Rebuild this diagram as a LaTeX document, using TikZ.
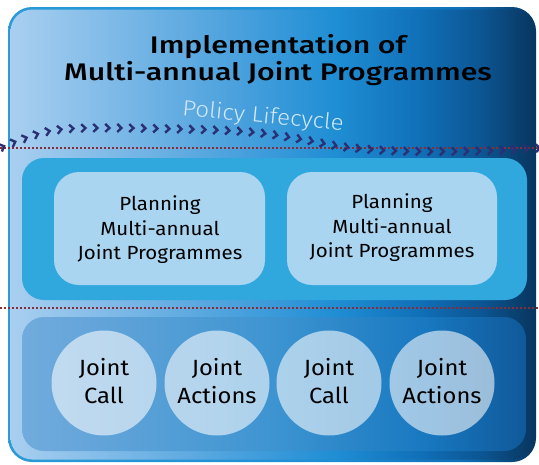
\documentclass[tikz,border=0pt]{standalone}
\usepackage{fontspec}
\setmainfont[FakeStretch=1.08]{Fira Sans}
\newfontfamily\titlefont[FakeStretch=1.26]{Fira Sans Medium}
\newfontfamily\lightfont[FakeStretch=1.1]{Fira Sans Light}
\usepackage{tikz}
\usetikzlibrary{decorations.markings}

\definecolor{paleblue}{HTML}{A9CFF0}
\definecolor{skyblue}{HTML}{5AA8E0}
\definecolor{midblue}{HTML}{1F8ED4}
\definecolor{deepblue}{HTML}{1070B8}
\definecolor{darkblue}{HTML}{0C5592}
\definecolor{navyblue}{HTML}{083660}
\definecolor{rimblue}{HTML}{2A9AD8}
\definecolor{panelblue}{HTML}{30A8DE}
\definecolor{planfill}{HTML}{A9D5F1}
\definecolor{lowleft}{HTML}{72ABDD}
\definecolor{lowmid}{HTML}{3D94D1}
\definecolor{lowdeep}{HTML}{1878C0}
\definecolor{lowright}{HTML}{10599A}
\definecolor{chevcol}{HTML}{2B2F73}
\definecolor{dotcol}{HTML}{8B2B35}
\definecolor{cyclecol}{HTML}{D2E8F8}

% shadings run from 25bp (left edge) to 75bp (right edge)
\pgfdeclarehorizontalshading{outershade}{100bp}{color(0bp)=(paleblue); color(25bp)=(paleblue);
  color(43bp)=(skyblue); color(56bp)=(midblue); color(64bp)=(deepblue);
  color(70bp)=(darkblue); color(75bp)=(navyblue); color(100bp)=(navyblue)}
\pgfdeclarehorizontalshading{rimshade}{100bp}{color(0bp)=(rimblue); color(25bp)=(rimblue);
  color(56bp)=(midblue); color(68bp)=(deepblue); color(75bp)=(navyblue); color(100bp)=(navyblue)}
\pgfdeclarehorizontalshading{lowshade}{100bp}{color(0bp)=(lowleft); color(25bp)=(lowleft);
  color(50bp)=(lowmid); color(65bp)=(lowdeep); color(75bp)=(lowright); color(100bp)=(lowright)}

\tikzset{
  plantext/.style={align=center, font=\fontsize{19}{24.5}\selectfont, inner sep=0pt},
  roundtext/.style={align=center, font=\fontsize{22}{28}\selectfont, inner sep=0pt},
  dotline/.style={dotcol, line width=2pt, dash pattern=on 1.8pt off 2.2pt},
  chevron/.style={chevcol, line width=2.4pt},
}

\begin{document}
\begin{tikzpicture}[x=1pt, y=-1pt]
\useasboundingbox (0,0) rectangle (539,464);

\coordinate (O1) at (8,7);
\coordinate (O2) at (536,462);
\coordinate (M1) at (22,158);
\coordinate (M2) at (527,300);
\coordinate (B1) at (22,317);
\coordinate (B2) at (526,451);

% outer frame: rim first, then the fill a bit inside it
\shade[shading=rimshade, rounded corners=24] (O1) rectangle (O2);
\shade[shading=outershade, rounded corners=22] (10.5,9.5) rectangle (534,459.5);

% planning panel
\fill[panelblue, rounded corners=22] (M1) rectangle (M2);
\fill[planfill, rounded corners=25] (54,172) rectangle (265,285);
\fill[planfill, rounded corners=25] (287,172) rectangle (497,285);

% joint call / joint actions panel
\shade[shading=lowshade, rounded corners=22] (B1) rectangle (B2);
\foreach \cx in {104,217,329,442}
  \fill[white, fill opacity=.58] (\cx,383) circle (52.5);

% dotted time lines
\coordinate (T1) at (0,148);
\coordinate (T2) at (539,148);
\coordinate (U1) at (0,308);
\coordinate (U2) at (539,308);
\draw[dotline] (T1) -- (T2);
\draw[dotline] (U1) -- (U2);

% policy lifecycle chevrons
\path[decoration={markings, mark=between positions 0.005 and 1 step 12pt with
    {\draw[chevron] (-2.4pt,4pt) -- (1.8pt,0) -- (-2.4pt,-4pt);}}, decorate]
  plot[smooth, tension=.6] coordinates {(0,148) (20,140) (50,131) (90,128) (180,129)
    (250,132) (300,139) (345,147) (400,151) (480,151) (539,148)};

\node (title) [align=center, inner sep=0pt, font=\titlefont\fontsize{24}{27}\selectfont]
  at (278,60) {Implementation of\\Multi-annual Joint Programmes};
\node (cycle) [cyclecol, inner sep=0pt, rotate=-5.5, font=\lightfont\fontsize{22}{25}\selectfont]
  at (263,117) {Policy Lifecycle};

\node (plan1) [plantext] at (160,230) {Planning\\Multi-annual\\Joint Programmes};
\node (plan2) [plantext] at (392,228) {Planning\\Multi-annual\\Joint Programmes};

\node (call1) [roundtext] at (104,381) {Joint\\Call};
\node (act1) [roundtext] at (217,381) {Joint\\Actions};
\node (call2) [roundtext] at (329,381) {Joint\\Call};
\node (act2) [roundtext] at (442,381) {Joint\\Actions};

\end{tikzpicture}
\end{document}
